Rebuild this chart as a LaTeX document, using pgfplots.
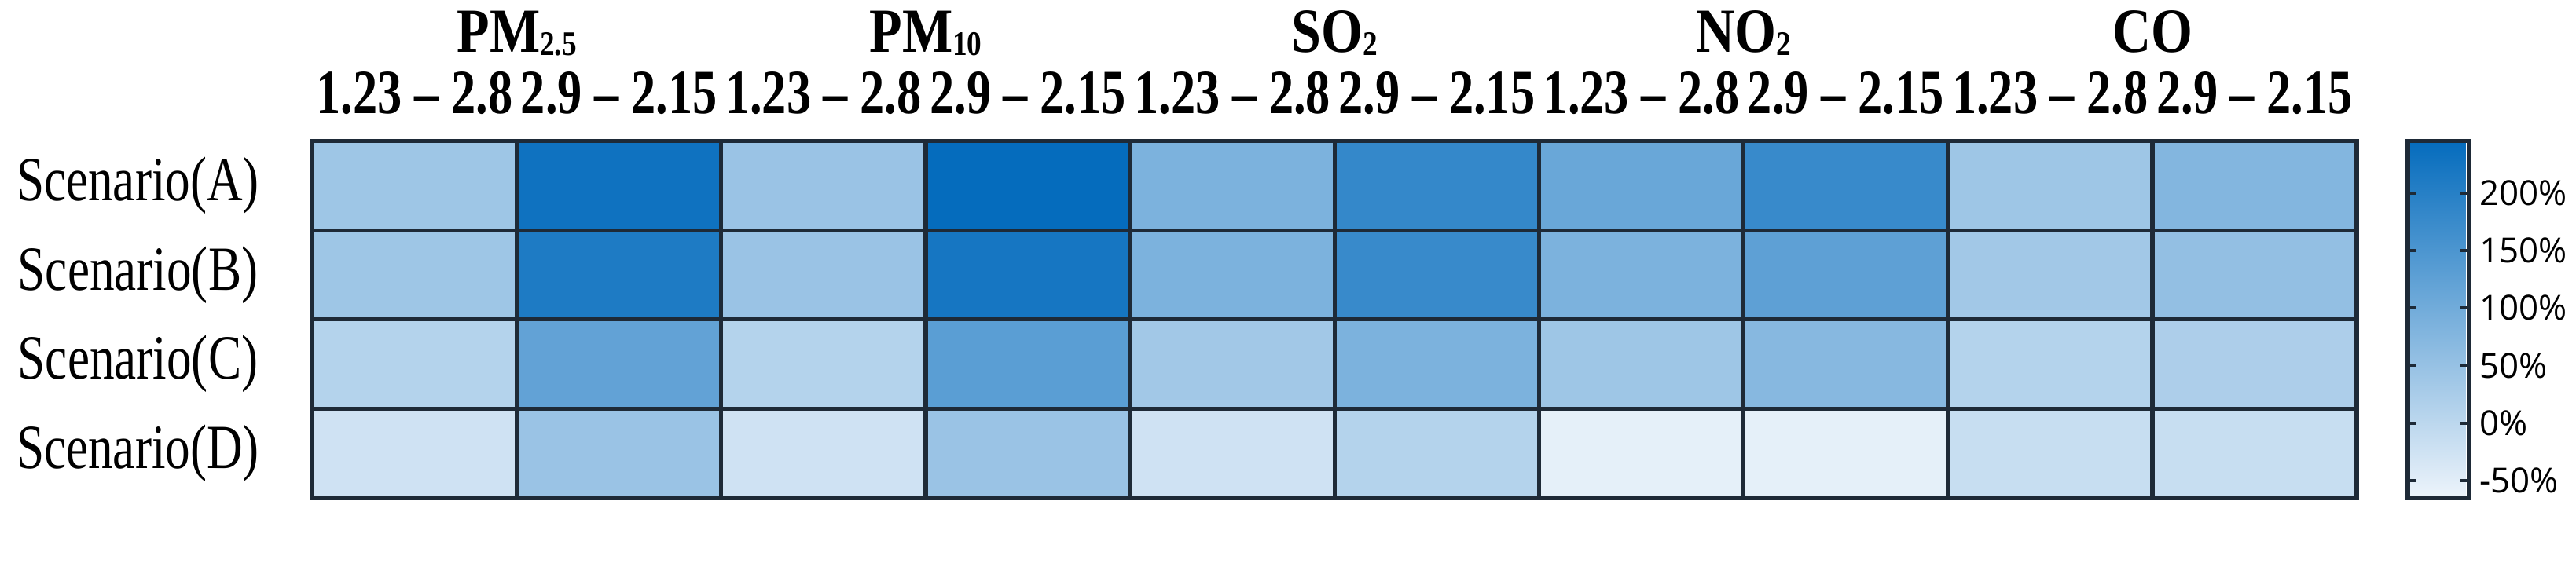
\documentclass[border=0pt]{standalone}
\usepackage{fontspec}
\setmainfont{Liberation Serif}
\newfontfamily\osans{Open Sans}
\usepackage{graphicx}
\usepackage{pgfplots}
\pgfplotsset{compat=1.18}
\definecolor{gridc}{RGB}{30,42,55}
\newcommand\rl[1]{\scalebox{0.78}[1]{#1}}
\newcommand\scn[1]{\scalebox{0.79}[1]{#1}}
\newcommand\sub[1]{\raisebox{-0.8pt}{\fontsize{8.5}{9}\selectfont #1}}
\tikzset{head/.style={font=\bfseries\fontsize{15.5}{16}\selectfont, anchor=base}}
\begin{document}
\begin{tikzpicture}
\begin{axis}[
  scale only axis, width=504pt, height=88pt,
  xmin=-0.5, xmax=9.5, ymin=-0.5, ymax=3.5, y dir=reverse,
  enlargelimits=false, axis on top, clip=false,
  colormap={blues}{rgb255=(237,244,251) rgb255=(5,108,189)},
  point meta min=-65, point meta max=245,
  xtick={0,...,9}, xticklabel pos=top,
  xticklabels={\rl{1.23 – 2.8}, \rl{2.9 – 2.15}, \rl{1.23 – 2.8}, \rl{2.9 – 2.15}, \rl{1.23 – 2.8}, \rl{2.9 – 2.15}, \rl{1.23 – 2.8}, \rl{2.9 – 2.15}, \rl{1.23 – 2.8}, \rl{2.9 – 2.15}},
  xticklabel style={font=\bfseries\fontsize{15.5}{16}\selectfont, yshift=3pt},
  ytick={0,...,3},
  yticklabels={\scn{Scenario(A)}, \scn{Scenario(B)}, \scn{Scenario(C)}, \scn{Scenario(D)}},
  yticklabel style={font=\fontsize{15.5}{16}\selectfont, anchor=center, xshift=-43pt},
  major tick length=0pt, minor tick length=0pt,
  minor xtick={0.5,1.5,...,8.5}, minor ytick={0.5,1.5,2.5},
  xminorgrids, yminorgrids,
  minor grid style={line width=1pt, gridc},
  axis line style={line width=1.1pt, gridc},
  colorbar,
  colorbar style={
    at={(parent axis.north east)}, anchor=north west, xshift=4pt,
    width=15pt,
    ytick={-50,0,50,100,150,200},
    yticklabel={\pgfmathprintnumber{\tick}\%},
    /pgf/number format/assume math mode=true,
    yticklabel style={font=\osans\fontsize{8.5}{9}\selectfont, inner xsep=1pt, xshift=1.5pt},
    major tick length=2pt, tick align=inside, tick style={gridc, line width=0.8pt},
    axis line style={gridc, line width=1.1pt},
  },
]
\addplot[matrix plot*, mesh/cols=10, point meta=explicit] table[meta=c] {
x y c
0 0 40
1 0 230
2 0 45
3 0 245
4 0 85
5 0 180
6 0 110
7 0 175
8 0 40
9 0 75
0 1 40
1 1 210
2 1 45
3 1 220
4 1 85
5 1 175
6 1 85
7 1 125
8 1 35
9 1 55
0 2 10
1 2 120
2 2 10
3 2 130
4 2 35
5 2 85
6 2 40
7 2 70
8 2 10
9 2 20
0 3 -25
1 3 45
2 3 -25
3 3 45
4 3 -25
5 3 10
6 3 -55
7 3 -55
8 3 -15
9 3 -15
};
\node[head] at ([yshift=22pt]axis cs:0.5,-0.5) {\scalebox{0.85}[1]{PM\sub{2.5}}};
\node[head] at ([yshift=22pt]axis cs:2.5,-0.5) {\scalebox{0.85}[1]{PM\sub{10}}};
\node[head] at ([yshift=22pt]axis cs:4.5,-0.5) {\scalebox{0.85}[1]{SO\sub{2}}};
\node[head] at ([yshift=22pt]axis cs:6.5,-0.5) {\scalebox{0.85}[1]{NO\sub{2}}};
\node[head] at ([yshift=22pt]axis cs:8.5,-0.5) {\scalebox{0.85}[1]{CO}};
\end{axis}
\pgfresetboundingbox
\path ([xshift=-77pt,yshift=-17pt]current axis.south west) rectangle ([xshift=54pt,yshift=34.8pt]current axis.north east);
\end{tikzpicture}
\end{document}
